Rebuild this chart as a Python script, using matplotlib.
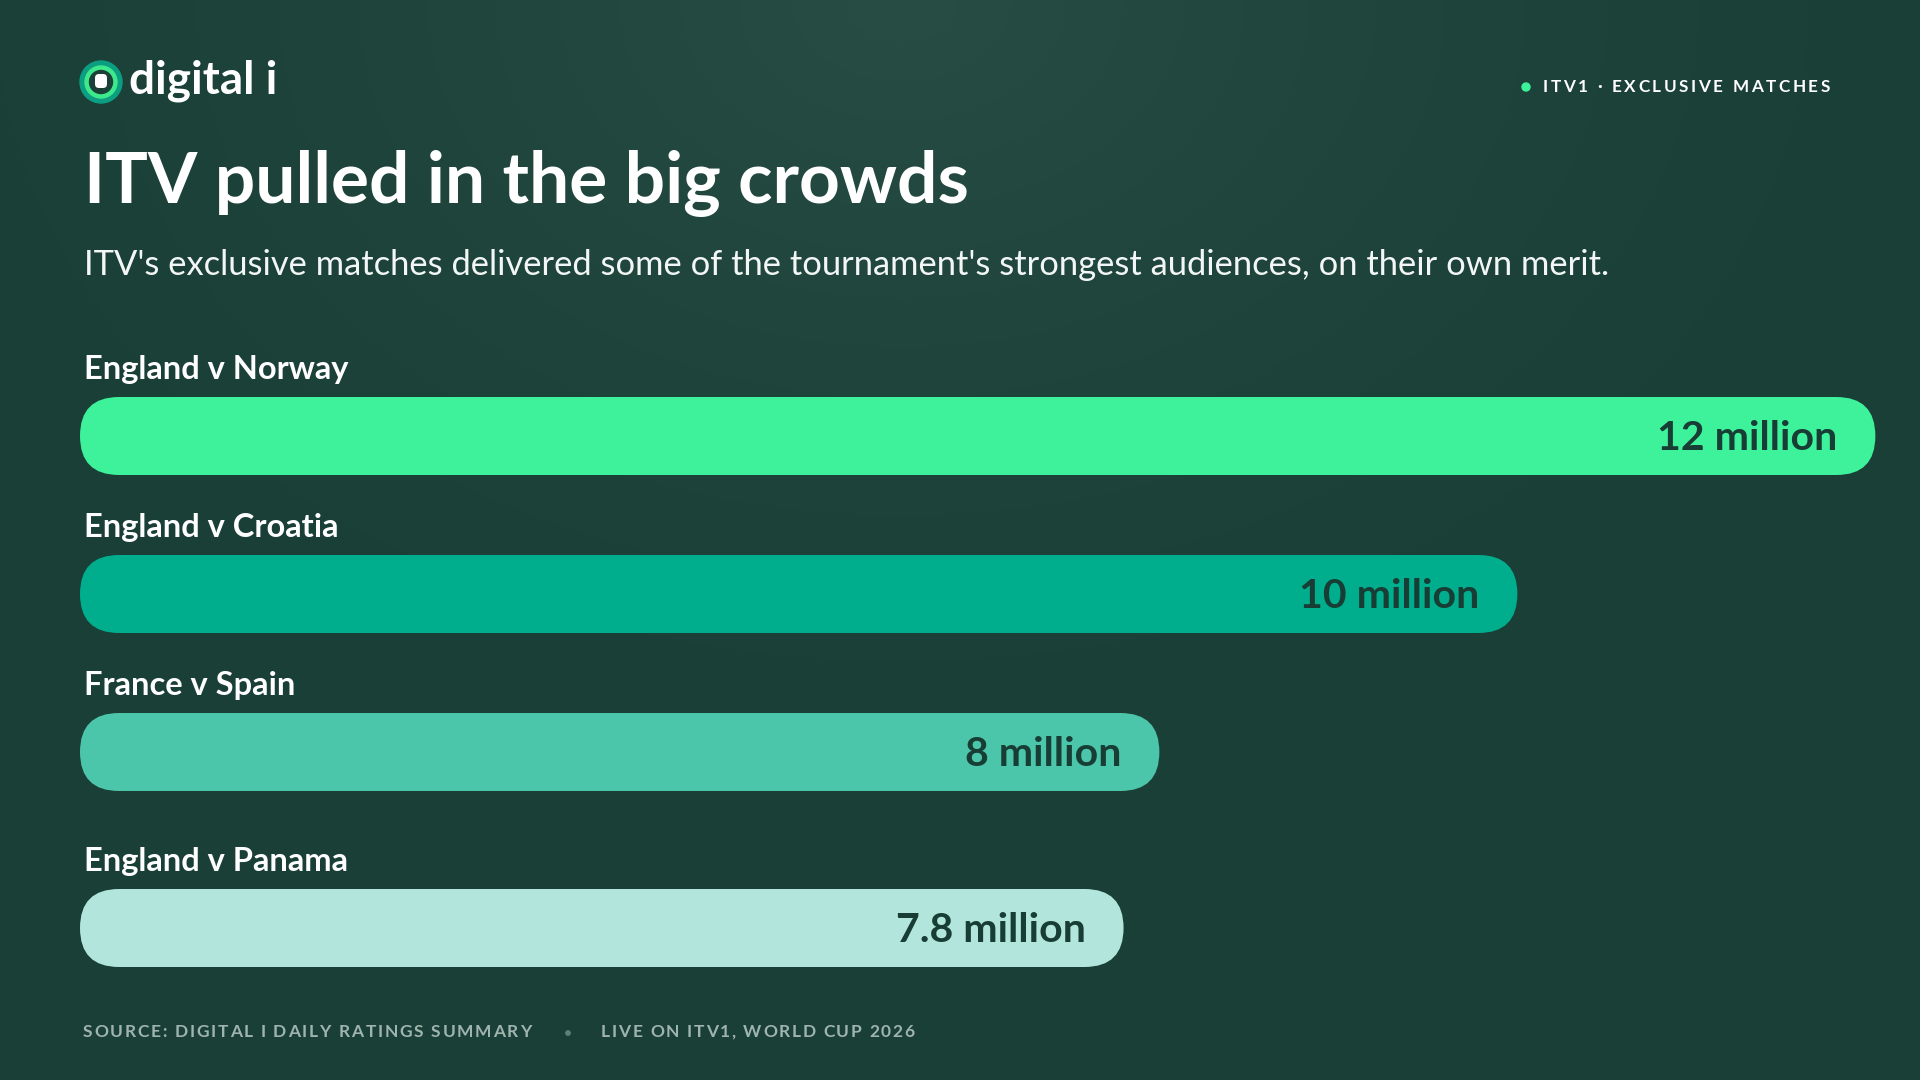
import numpy as np
import matplotlib.pyplot as plt
from matplotlib.patches import FancyBboxPatch, Circle
from matplotlib.colors import LinearSegmentedColormap

# data
matches = ['England v Norway', 'England v Croatia', 'France v Spain', 'England v Panama']
viewers = [12, 10, 8, 7.8]
viewer_labels = ['12 million', '10 million', '8 million', '7.8 million']
bar_colors = ['#3df29a', '#00ae8e', '#4cc6aa', '#b2e6dc']

title = 'ITV pulled in the big crowds'
subtitle = "ITV's exclusive matches delivered some of the tournament's strongest audiences, on their own merit."
tag = 'ITV1 · EXCLUSIVE MATCHES'
source = 'SOURCE: DIGITAL I DAILY RATINGS SUMMARY'
note = 'LIVE ON ITV1, WORLD CUP 2026'

BG = '#1a4038'
DARK = '#173d35'
W, H = 1920, 1080

plt.rcParams['font.family'] = ['Lato', 'DejaVu Sans']

fig = plt.figure(figsize=(19.2, 10.8), dpi=100)
bg = fig.add_axes([0, 0, 1, 1])
bg.set_xlim(0, W)
bg.set_ylim(H, 0)
bg.axis('off')

# soft glow near the top centre
yy, xx = np.mgrid[0:H:4, 0:W:4]
d = np.hypot((xx - 900) / 1100, yy / 800)
glow = np.clip(1 - d, 0, 1) ** 1.5
cmap = LinearSegmentedColormap.from_list('bg', ['#193f37', '#274d44'])
bg.imshow(glow, extent=(0, W, H, 0), cmap=cmap, vmin=0, vmax=1, aspect='auto', zorder=0)

renderer = fig.canvas.get_renderer()


def text_width(s, **kw):
    t = bg.text(0, 0, s, **kw)
    w = t.get_window_extent(renderer).width
    t.remove()
    return w


def tracked(x, y, s, spacing, align='left', **kw):
    # matplotlib has no letter-spacing, so place characters one by one
    w_bar = text_width('|', **kw)
    total = text_width(s, **kw) + spacing * (len(s) - 1)
    if align == 'right':
        x = x - total
    for i, ch in enumerate(s):
        if ch == ' ':
            continue
        off = text_width(s[:i] + '|', **kw) - w_bar if i else 0
        bg.text(x + off + i * spacing, y, ch, ha='left', **kw)


# logo
bg.add_patch(Circle((101, 82), 21, color='#0b9e80', zorder=2))
bg.add_patch(Circle((101, 82), 16, color='#3ee98c', zorder=3))
bg.add_patch(Circle((101, 82), 11.5, color=BG, zorder=4))
bg.add_patch(FancyBboxPatch((95, 74), 12, 14, boxstyle='round,pad=0,rounding_size=4',
                            fc='white', ec='none', zorder=5))
bg.text(129, 94, 'digital i', color='white', fontsize=33, fontweight='bold', va='baseline')

# tag top right
bg.add_patch(Circle((1526, 87), 4, color='#3df29a', zorder=3))
tracked(1543, 87, tag, 2.6, color='white', fontsize=12.3, fontweight='bold', va='center')

# titles
bg.text(84, 203, title, color='white', fontsize=51.3, fontweight='bold', va='baseline')
bg.text(84, 275, subtitle, color='#f2f6f4', fontsize=24.85, fontweight='normal', va='baseline')

# bars
x0 = 1.97          # value at the left edge of the bars
px_per_unit = 179
bar_y = [436, 594, 752, 928]
bar_h = 78
ax = fig.add_axes([80 / W, 0, (W - 80) / W, 1])
ax.set_xlim(x0, x0 + (W - 80) / px_per_unit)
ax.set_ylim(H, 0)
ax.axis('off')
ax.patch.set_visible(False)

for name, v, lab, c, yc in zip(matches, viewers, viewer_labels, bar_colors, bar_y):
    r = bar_h / 2 / px_per_unit
    ax.add_patch(FancyBboxPatch((x0, yc - bar_h / 2), v - x0, bar_h,
                                boxstyle=f'round,pad=0,rounding_size={r}',
                                mutation_aspect=px_per_unit, fc=c, ec='none'))
    ax.text(v - 38 / px_per_unit, yc + 14, lab, ha='right', va='baseline',
            fontsize=29.5, fontweight='bold', color=DARK)
    bg.text(84, yc - 57, name, color='white', fontsize=23.5, fontweight='bold', va='baseline')

# footer
foot = dict(color='#9fb4ad', fontsize=12.5, fontweight='bold', va='center')
tracked(83, 1032, source, 1.75, **foot)
bg.add_patch(Circle((568, 1033), 2.2, color='#5e7f76', zorder=3))
tracked(601, 1032, note, 1.7, **foot)

fig.savefig('out.png', dpi=100, facecolor=BG)
